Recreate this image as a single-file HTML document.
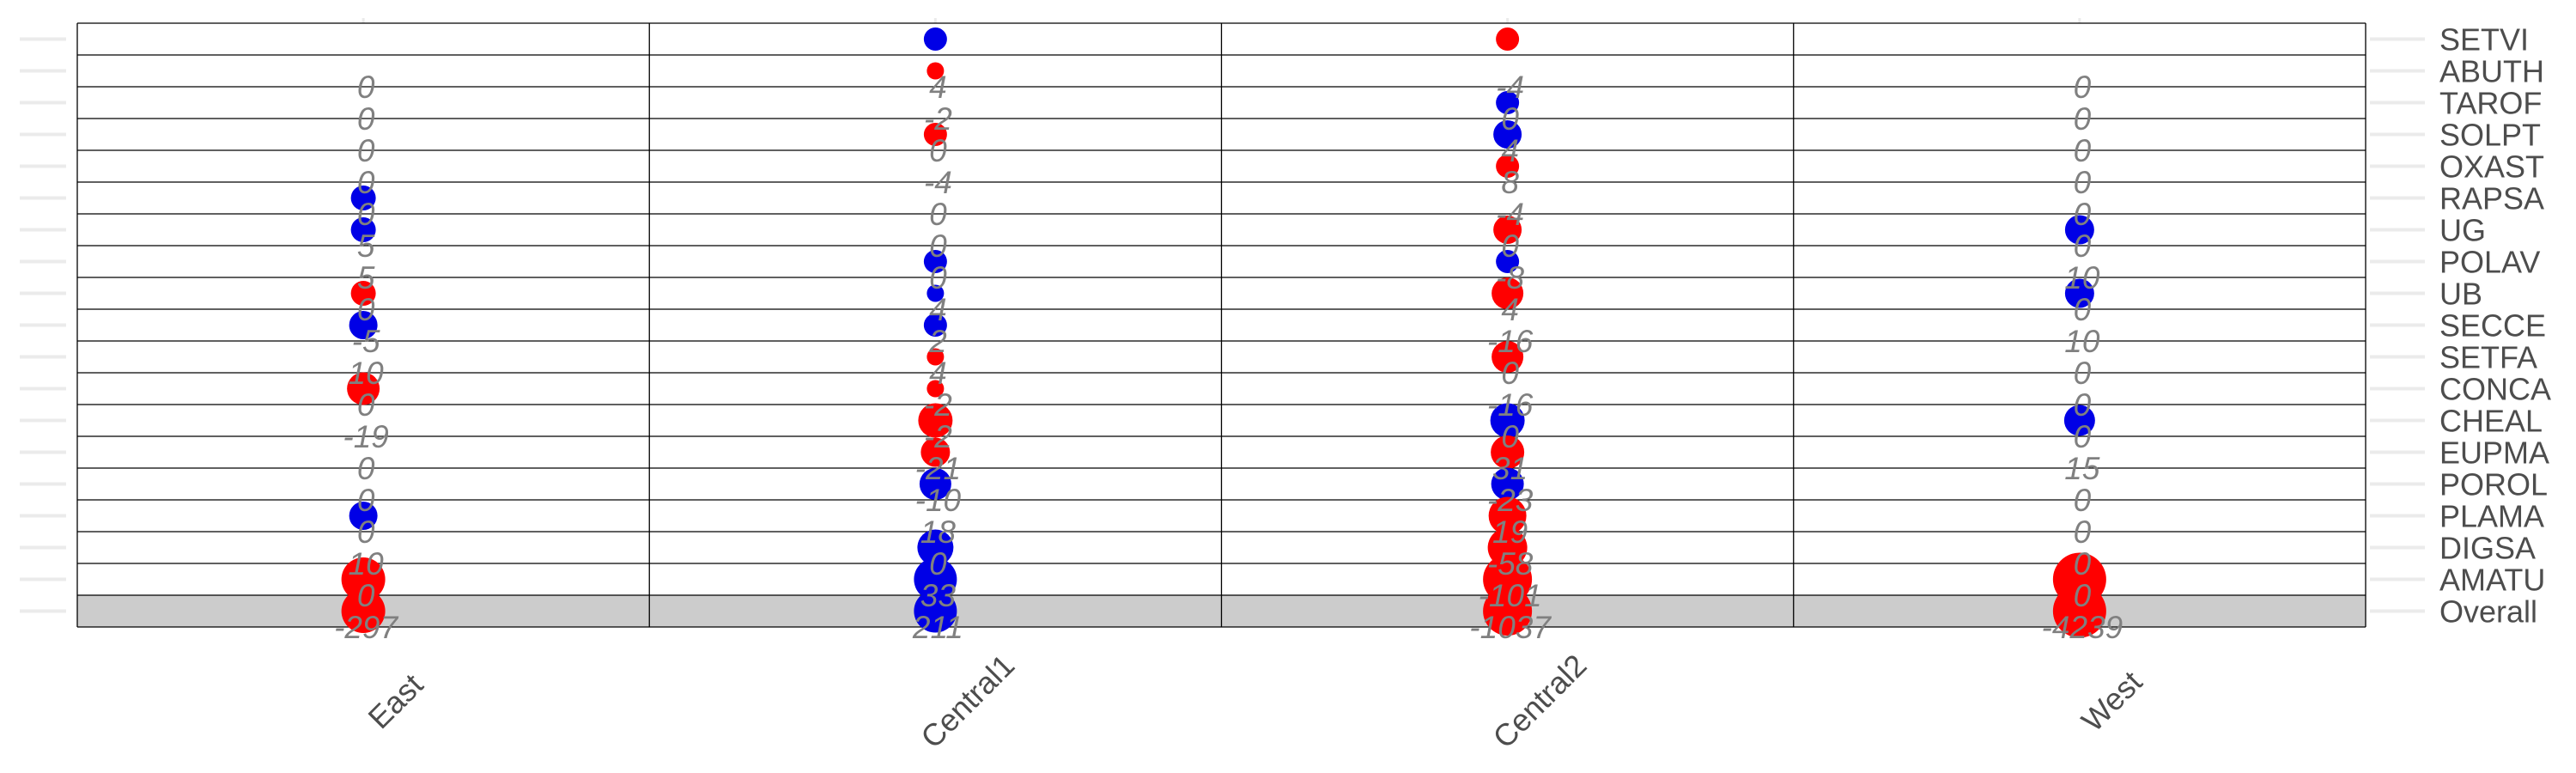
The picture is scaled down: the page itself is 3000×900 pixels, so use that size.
<!DOCTYPE html>
<html><head><meta charset="utf-8"><style>
html,body{margin:0;padding:0;background:#fff;}
svg{display:block;}
</style></head><body>
<svg id="chart" width="3000" height="900" xmlns="http://www.w3.org/2000/svg"></svg>
<script>
const species = ["SETVI","ABUTH","TAROF","SOLPT","OXAST","RAPSA","UG","POLAV","UB","SECCE","SETFA","CONCA","CHEAL","EUPMA","POROL","PLAMA","DIGSA","AMATU","Overall"];
const regions = ["East","Central1","Central2","West"];
// printed values per region (null = none), rows in species order
const valuesEast = [null,0,0,0,0,0,5,5,0,-5,10,0,-19,0,0,0,10,0,-297];
const valuesCentral1 = [null,4,-2,0,-4,0,0,0,4,2,4,-2,-2,-21,-10,18,0,33,211];
const valuesCentral2 = [null,-4,0,4,8,-4,0,-8,4,-16,0,-16,0,31,-23,19,-58,-101,-1037];
const valuesWest = [null,0,0,0,0,0,0,10,0,10,0,0,0,15,0,0,0,0,-4239];
// dot sizes (0 = no dot) and colours ('r' red, 'b' blue)
const sizeEast = [0,0,0,0,0,14.5,14.5,0,14.5,16.5,0,19,0,0,0,16.5,0,25.5,25.5];
const colorEast = ["","","","","","b","b","","r","b","","r","","","","b","","r","r"];
const sizeCentral1 = [13.5,10,0,13.5,0,0,0,13.5,10,13.5,10,10,20,17,18.5,0,21,25,25];
const colorCentral1 = ["b","r","","r","","","","b","b","b","r","r","r","r","b","","b","b","b"];
const sizeCentral2 = [13.5,0,13.5,16.5,13.5,0,16.5,13.5,18.5,0,18.5,0,20,19.5,19,22,23,28.5,28.5];
const colorCentral2 = ["r","","b","b","r","","r","b","r","","r","","b","r","b","r","r","r","r"];
const sizeWest = [0,0,0,0,0,0,17,0,17,0,0,0,18,0,0,0,0,31,31];
const colorWest = ["","","","","","","b","","b","","","","b","","","","","r","r"];

const valueSets=[valuesEast,valuesCentral1,valuesCentral2,valuesWest];
const sizeSets=[sizeEast,sizeCentral1,sizeCentral2,sizeWest];
const colorSets=[colorEast,colorCentral1,colorCentral2,colorWest];

const NS="http://www.w3.org/2000/svg";
const svg=document.getElementById('chart');
const L=90,R=2755,T=27,B=730;
const rowH=(B-T)/species.length, colW=(R-L)/regions.length;
const yRow=i=>T+rowH*(i+0.5);
const xCol=j=>L+colW*(j+0.5);
function mk(tag,attrs,parent){const e=document.createElementNS(NS,tag);for(const k in attrs)e.setAttribute(k,attrs[k]);(parent||svg).appendChild(e);return e;}

let band=mk('rect',{x:L,y:T+rowH*(species.length-1),width:R-L,height:rowH,fill:'#cccccc'});



species.forEach((s,i)=>{
  const y=yRow(i);
  let t1=mk('line',{x1:23,x2:77,y1:y,y2:y,stroke:'#ebebeb','stroke-width':4});
  
  
  let t2=mk('line',{x1:2760,x2:2824,y1:y,y2:y,stroke:'#ebebeb','stroke-width':4});
  
  
  let tx=mk('text',{x:2841,y:y+13,'font-family':'Liberation Sans, sans-serif','font-size':36,fill:'#4d4d4d'});
  tx.textContent=s;
  
  
});
regions.forEach((r,j)=>{
  const x=xCol(j);
  let tk=mk('line',{x1:x,x2:x,y1:21,y2:27,stroke:'#ebebeb','stroke-width':3});
  
  
  let lb=mk('text',{x:x+37,y:829,'text-anchor':'middle','font-family':'Liberation Sans, sans-serif','font-size':36,fill:'#4d4d4d',transform:`rotate(-45 ${x+37} 816)`});
  lb.textContent=r;
  
  
});

for(let i=0;i<=species.length;i++){
  const y=T+rowH*i;
  let g=mk('line',{x1:L,x2:R,y1:y,y2:y,stroke:'#000','stroke-width':1.3});
  
  
}
for(let j=0;j<=regions.length;j++){
  const x=L+colW*j;
  let g=mk('line',{x1:x,x2:x,y1:T,y2:B,stroke:'#000','stroke-width':1.3});
  
  
}

regions.forEach((r,j)=>{
  sizeSets[j].forEach((sz,i)=>{
    if(!sz)return;
    let c=mk('circle',{cx:xCol(j),cy:yRow(i),r:sz,fill:colorSets[j][i]==='r'?'#ff0000':'#0000e6'});
    
    
  });
});
regions.forEach((r,j)=>{
  valueSets[j].forEach((v,i)=>{
    if(v===null)return;
    let t=mk('text',{x:xCol(j)+3,y:yRow(i)+rowH/2+13,'text-anchor':'middle','font-family':'Liberation Sans, sans-serif','font-size':37,'font-style':'italic',fill:'#808080'});
    t.textContent=String(v);
    
    
  });
});
</script>
</body></html>
